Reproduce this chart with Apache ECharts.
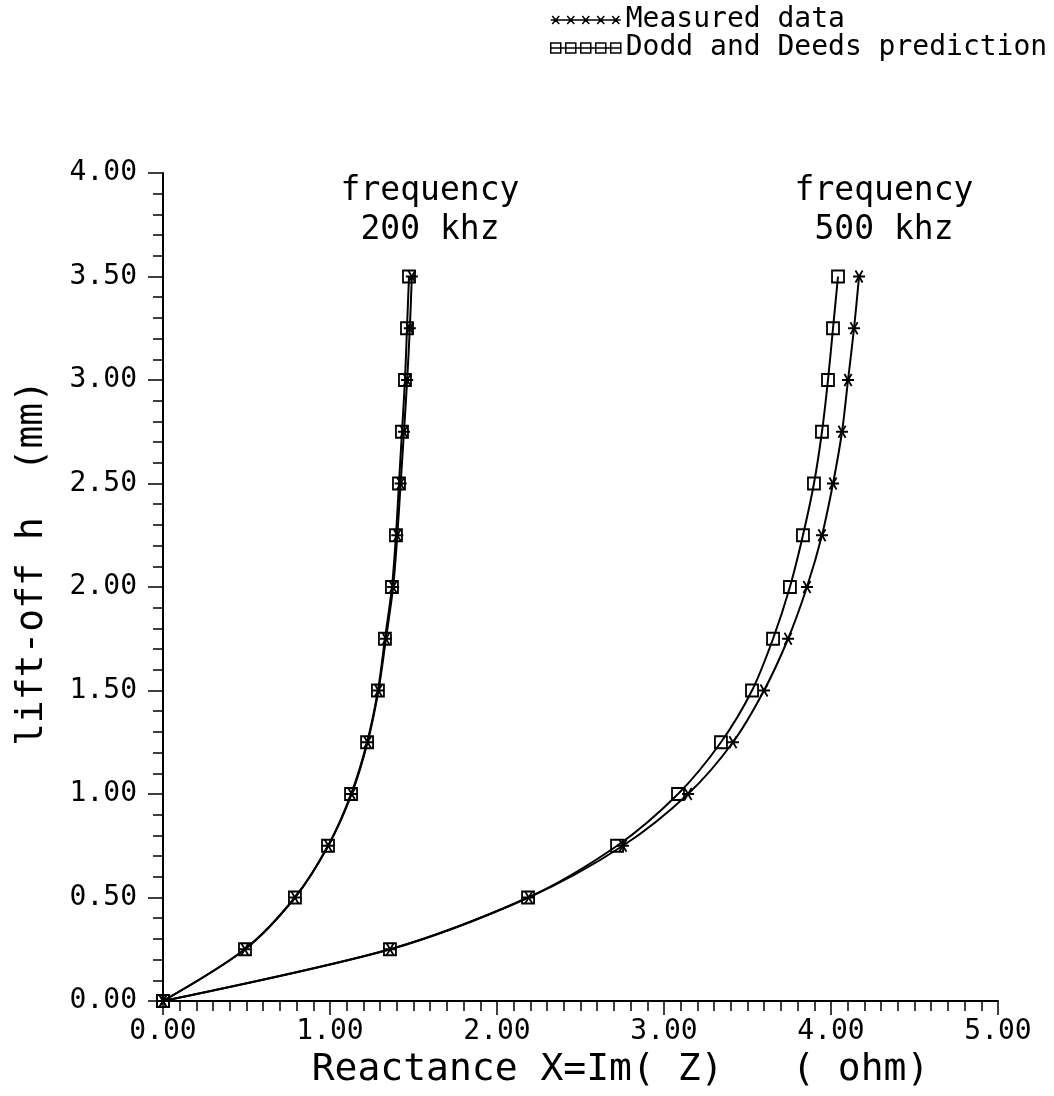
<!DOCTYPE html>
<html>
<head>
<meta charset="utf-8">
<script src="https://cdn.jsdelivr.net/npm/echarts@6/dist/echarts.min.js"></script>
<style>
  html, body { margin: 0; padding: 0; background: #fff; }
  #chart { width: 1054px; height: 1096px; }
</style>
</head>
<body>
<div id="chart"></div>
<script>
// lift-off h (mm), same for every curve
var liftOff = [0, 0.25, 0.5, 0.75, 1.0, 1.25, 1.5, 1.75, 2.0, 2.25, 2.5, 2.75, 3.0, 3.25, 3.5];

// reactance X (ohm) at 200 khz
var measured200 = [0, 0.49, 0.79, 0.99, 1.13, 1.225, 1.29, 1.335, 1.378, 1.403, 1.423, 1.443, 1.462, 1.478, 1.49];
var predicted200 = [0, 0.491, 0.79, 0.988, 1.126, 1.222, 1.287, 1.329, 1.371, 1.395, 1.413, 1.431, 1.449, 1.461, 1.473];

// reactance X (ohm) at 500 khz
var measured500 = [0, 1.36, 2.19, 2.754, 3.144, 3.413, 3.599, 3.743, 3.856, 3.946, 4.012, 4.066, 4.102, 4.138, 4.168];
var predicted500 = [0, 1.359, 2.186, 2.719, 3.084, 3.341, 3.527, 3.653, 3.754, 3.832, 3.898, 3.946, 3.982, 4.012, 4.042];

var xTicks = [0, 1, 2, 3, 4, 5];
var yTicks = [0, 0.5, 1, 1.5, 2, 2.5, 3, 3.5, 4];

function pairs(xs) {
    return xs.map(function (x, i) { return [x, liftOff[i]]; });
}

var FONT = 'DejaVu Sans Mono';
var starSymbol = 'path://M0,5 L10,5 M2,1 L8,9 M8,1 L2,9';

// legend icons: five marks strung on a line
var starIcon = '', boxIcon = '';
[5, 20, 35, 50, 65].forEach(function (cx) {
    starIcon += 'M' + (cx - 5) + ',6 L' + (cx + 5) + ',6 M' + (cx - 3.5) + ',2 L' + (cx + 3.5) + ',10 M' + (cx + 3.5) + ',2 L' + (cx - 3.5) + ',10 ';
    boxIcon += 'M' + (cx - 5) + ',1 L' + (cx + 5) + ',1 L' + (cx + 5) + ',11 L' + (cx - 5) + ',11 Z ';
});
starIcon = 'path://' + starIcon + 'M0,6 L70,6';
boxIcon = 'path://' + boxIcon + 'M0,6 L70,6';

function lineSeries(name, xs, symbol, size) {
    return {
        name: name,
        type: 'line',
        data: pairs(xs),
        smooth: 0.3,
        symbol: symbol,
        symbolSize: size,
        showAllSymbol: true,
        lineStyle: { color: '#000', width: 2 },
        itemStyle: { color: 'transparent', borderColor: '#000', borderWidth: 1.8 }
    };
}

var chart = echarts.init(document.getElementById('chart'));

var option = {
    backgroundColor: '#fff',
    animation: false,
    textStyle: { fontFamily: FONT, color: '#000' },
    grid: { left: 163, right: 56, top: 173, bottom: 95 },
    legend: {
        orient: 'vertical',
        left: 545,
        top: 1,
        itemWidth: 70,
        itemHeight: 12,
        itemGap: 0,
        textStyle: { fontFamily: FONT, fontSize: 28, color: '#000' },
        itemStyle: { color: 'transparent', borderColor: '#000', borderWidth: 1.5 },
        data: [
            { name: 'Measured data', icon: starIcon },
            { name: 'Dodd and Deeds prediction', icon: boxIcon }
        ]
    },
    xAxis: {
        type: 'value',
        min: xTicks[0],
        max: xTicks[xTicks.length - 1],
        interval: 1,
        name: 'Reactance X=Im( Z)   ( ohm)',
        nameLocation: 'middle',
        nameGap: 50,
        nameTextStyle: { fontFamily: FONT, fontSize: 38, color: '#000', padding: [0, 0, 0, 80] },
        axisLine: { lineStyle: { color: '#000', width: 2 } },
        axisTick: { show: true, inside: false, length: 14, lineStyle: { color: '#000', width: 1.5 } },
        minorTick: { show: true, splitNumber: 10, length: 10, lineStyle: { color: '#000', width: 1.5 } },
        splitLine: { show: false },
        axisLabel: {
            margin: 17,
            fontFamily: FONT,
            fontSize: 28,
            color: '#000',
            formatter: function (v) { return v.toFixed(2); }
        }
    },
    yAxis: {
        type: 'value',
        min: yTicks[0],
        max: yTicks[yTicks.length - 1],
        interval: 0.5,
        name: 'lift-off h  (mm)',
        nameLocation: 'middle',
        nameGap: 112,
        nameTextStyle: { fontFamily: FONT, fontSize: 38, color: '#000', padding: [0, 0, 0, 48] },
        axisLine: { lineStyle: { color: '#000', width: 2 } },
        axisTick: { show: true, inside: false, length: 15, lineStyle: { color: '#000', width: 1.5 } },
        minorTick: { show: true, splitNumber: 5, length: 10, lineStyle: { color: '#000', width: 1.5 } },
        splitLine: { show: false },
        axisLabel: {
            margin: 26,
            fontFamily: FONT,
            fontSize: 28,
            color: '#000',
            formatter: function (v) { return v.toFixed(2); }
        }
    },
    graphic: [
        { type: 'text', x: 430, y: 191, style: { text: 'frequency', fontFamily: FONT, fontSize: 33, fill: '#000', align: 'center', verticalAlign: 'middle' } },
        { type: 'text', x: 430, y: 230, style: { text: '200 khz', fontFamily: FONT, fontSize: 33, fill: '#000', align: 'center', verticalAlign: 'middle' } },
        { type: 'text', x: 884, y: 191, style: { text: 'frequency', fontFamily: FONT, fontSize: 33, fill: '#000', align: 'center', verticalAlign: 'middle' } },
        { type: 'text', x: 884, y: 230, style: { text: '500 khz', fontFamily: FONT, fontSize: 33, fill: '#000', align: 'center', verticalAlign: 'middle' } }
    ],
    series: [
        lineSeries('Measured data', measured200, starSymbol, 12),
        lineSeries('Dodd and Deeds prediction', predicted200, 'rect', 12),
        lineSeries('Measured data', measured500, starSymbol, 12),
        lineSeries('Dodd and Deeds prediction', predicted500, 'rect', 12)
    ]
};

chart.setOption(option);
</script>
</body>
</html>
